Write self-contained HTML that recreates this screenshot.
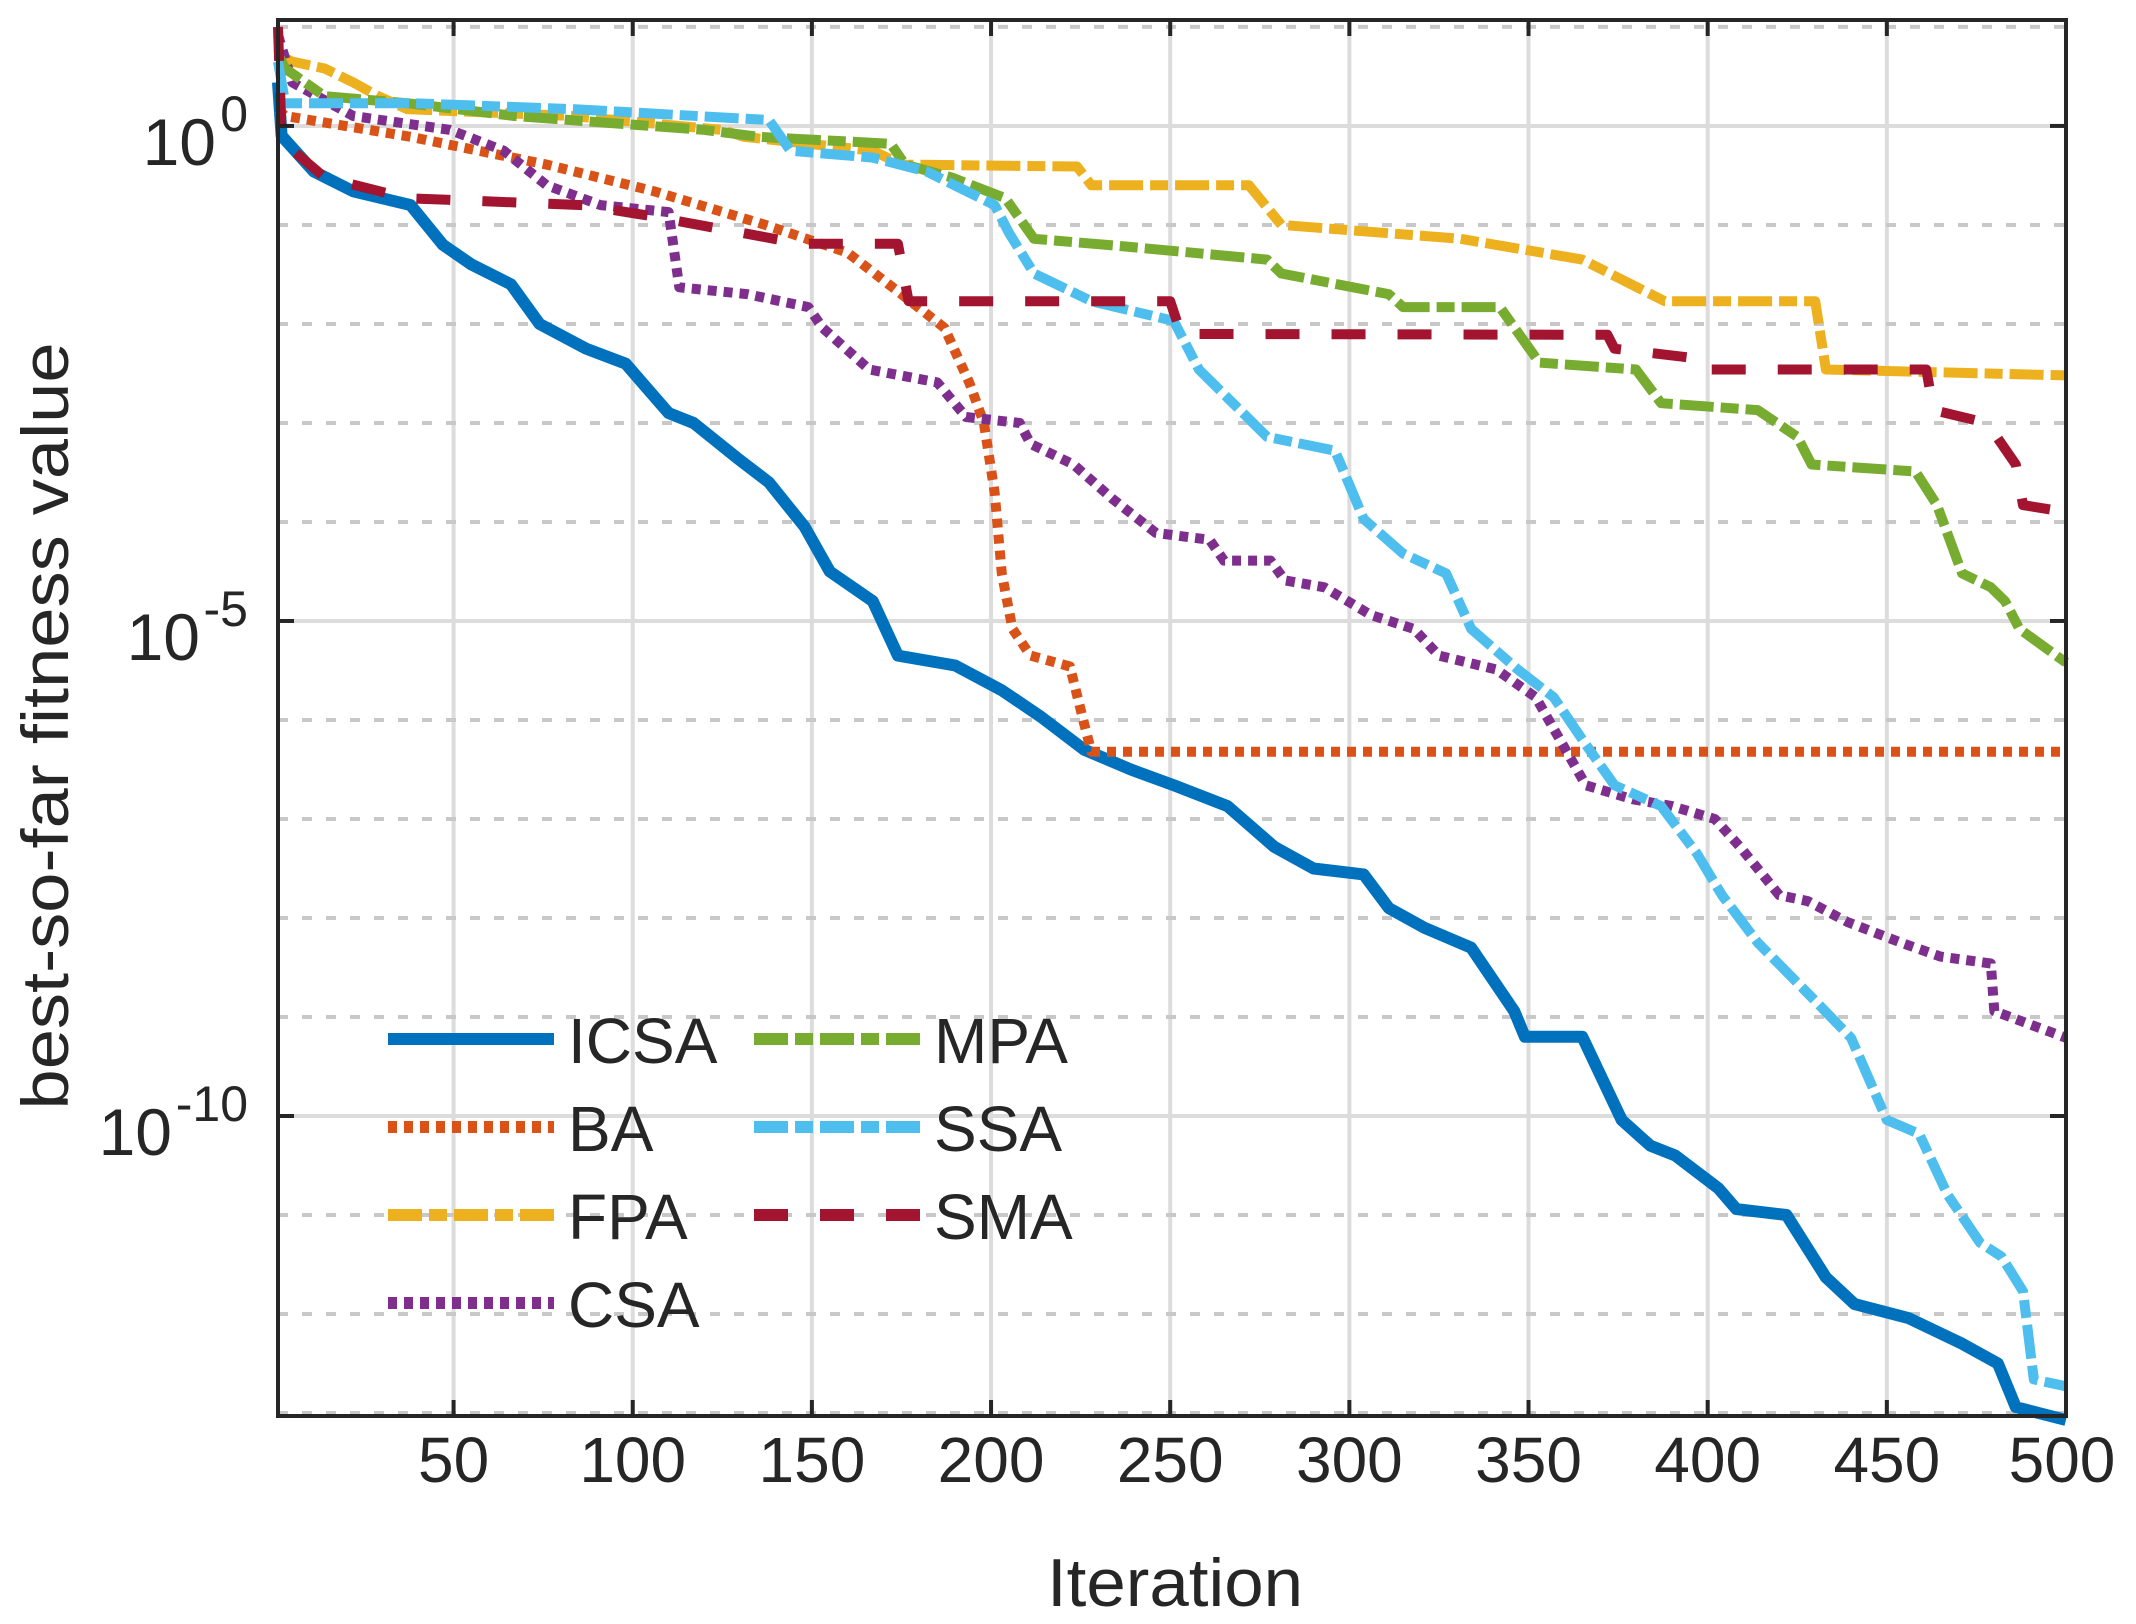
<!DOCTYPE html>
<html><head><meta charset="utf-8">
<style>
html,body{margin:0;padding:0;background:#fff;}
svg{display:block;}
text{font-family:"Liberation Sans",Arial,sans-serif;fill:#262626;}
</style></head>
<body>
<svg id="chart" width="2136" height="1624" viewBox="0 0 2136 1624" xmlns="http://www.w3.org/2000/svg">
<rect x="0" y="0" width="2136" height="1624" fill="#fff"/>
<g id="grid"></g>
<g id="series"></g>
<g id="axes"></g>
<g id="legend"></g>
</svg>
<script>
const xTicks = [50,100,150,200,250,300,350,400,450,500];
const yMajorExp = [0,-5,-10];
const yGridExp = [1,0,-1,-2,-3,-4,-5,-6,-7,-8,-9,-10,-11,-12,-13];

const icsaIter = [1,2,11,22,38,47,55,66,74,87,98,110,117,129,138,148,155,167,174,190,203,214,226,239,251,266,279,290,304,311,321,334,346,349,365,376,384,391,403,408,422,433,441,456,471,481,486,500];
const icsaLog = [0.44,-0.1,-0.46,-0.66,-0.8,-1.2,-1.4,-1.6,-2.0,-2.25,-2.4,-2.9,-3.0,-3.35,-3.6,-4.05,-4.5,-4.8,-5.35,-5.45,-5.7,-5.97,-6.3,-6.5,-6.66,-6.87,-7.28,-7.5,-7.56,-7.9,-8.1,-8.3,-8.94,-9.2,-9.2,-10.04,-10.3,-10.4,-10.73,-10.94,-11.0,-11.63,-11.9,-12.04,-12.3,-12.5,-12.94,-13.07];

const baIter = [1,3,38,76,106,137,160,175,187,194,198,201,203,206,211,222,226,228,500];
const baLog = [0.17,0.1,-0.11,-0.39,-0.66,-1.0,-1.28,-1.7,-2.04,-2.6,-3.0,-3.7,-4.52,-5.08,-5.35,-5.46,-6.04,-6.32,-6.32];

const fpaIter = [1,5,14,22,29,37,83,125,131,167,175,224,228,272,281,331,365,388,430,433,500];
const fpaLog = [0.72,0.65,0.58,0.44,0.3,0.17,0.1,-0.04,-0.11,-0.25,-0.39,-0.41,-0.6,-0.6,-1.0,-1.14,-1.35,-1.77,-1.77,-2.46,-2.52];

const csaIter = [1,5,22,49,64,76,91,110,113,132,149,153,166,185,193,208,211,223,234,246,261,265,278,282,293,306,318,325,341,352,366,379,390,402,409,420,428,439,454,465,479,480,500];
const csaLog = [0.92,0.44,0.1,-0.04,-0.25,-0.6,-0.8,-0.87,-1.63,-1.7,-1.83,-2.04,-2.46,-2.59,-2.94,-3.0,-3.21,-3.42,-3.77,-4.11,-4.18,-4.39,-4.39,-4.59,-4.66,-4.94,-5.08,-5.35,-5.49,-5.77,-6.66,-6.8,-6.87,-7.0,-7.28,-7.77,-7.83,-8.04,-8.25,-8.39,-8.46,-8.94,-9.21];

const mpaIter = [1,3,14,37,67,120,135,172,176,189,204,212,235,277,281,311,315,342,353,380,387,414,425,429,458,464,471,479,483,487,500];
const mpaLog = [0.72,0.58,0.3,0.23,0.1,-0.04,-0.11,-0.18,-0.39,-0.52,-0.73,-1.14,-1.21,-1.35,-1.49,-1.7,-1.83,-1.83,-2.39,-2.46,-2.8,-2.87,-3.14,-3.42,-3.49,-3.83,-4.52,-4.66,-4.8,-5.08,-5.42];

const ssaIter = [1,3,38,83,138,144,167,182,201,205,212,228,251,258,277,296,304,315,327,334,347,357,366,374,387,397,404,414,429,440,450,459,467,476,482,488,491,500];
const ssaLog = [0.65,0.23,0.23,0.17,0.06,-0.25,-0.32,-0.46,-0.8,-1.08,-1.49,-1.77,-1.97,-2.46,-3.14,-3.28,-3.97,-4.32,-4.52,-5.08,-5.49,-5.77,-6.25,-6.66,-6.87,-7.35,-7.77,-8.25,-8.8,-9.21,-10.04,-10.18,-10.8,-11.28,-11.42,-11.77,-12.66,-12.73];

const smaIter = [1,2,3,14,37,86,105,147,174,177,250,253,372,374,395,397,461,463,478,486,488,500];
const smaLog = [1.0,-0.11,-0.18,-0.52,-0.73,-0.8,-0.91,-1.19,-1.19,-1.77,-1.77,-2.1,-2.11,-2.25,-2.34,-2.46,-2.46,-2.87,-3.0,-3.42,-3.83,-3.9];

const seriesNames = ["ICSA","BA","FPA","CSA","MPA","SSA","SMA"];

const NS = "http://www.w3.org/2000/svg";
const L = 278, R = 2066, T = 20, B = 1416;
const xMin = 1, xMax = 500, yMaxLog = 1.07, yMinLog = -13.03;
function xs(v){ return L + (v - xMin) / (xMax - xMin) * (R - L); }
function ys(lg){ return T + (yMaxLog - lg) / (yMaxLog - yMinLog) * (B - T); }
function mk(tag, attrs, parent){
  const e = document.createElementNS(NS, tag);
  for (const k in attrs) e.setAttribute(k, attrs[k]);
  parent.appendChild(e); return e;
}
const grid = document.getElementById('grid');
const axes = document.getElementById('axes');
const sg = document.getElementById('series');
const lg = document.getElementById('legend');

xTicks.forEach(t => {
  const x = xs(t);
  const gl = mk('line', {x1:x, x2:x, y1:T, y2:B, stroke:'#dcdcdc', 'stroke-width':4}, grid);
  
  
  const tk = mk('line', {x1:x, x2:x, y1:B, y2:B-16, stroke:'#262626', 'stroke-width':4}, axes);
  
  
  const tk2 = mk('line', {x1:x, x2:x, y1:T, y2:T+16, stroke:'#262626', 'stroke-width':4}, axes);
  
  
  const lab = mk('text', {x: t===500 ? x-4 : x, y:1482, 'font-size':64, 'text-anchor':'middle'}, axes);
  lab.textContent = String(t);
  
  
});
yGridExp.forEach(e => {
  const y = ys(e);
  const major = yMajorExp.indexOf(e) >= 0;
  const gl = mk('line', {x1:L, x2:R, y1:y, y2:y, stroke: major ? '#dcdcdc' : '#c8c8c8', 'stroke-width': 4}, grid);
  if (!major) gl.setAttribute('stroke-dasharray', '10 14');
  
  
});
yMajorExp.forEach(e => {
  const y = ys(e);
  const tk = mk('line', {x1:L, x2:L+16, y1:y, y2:y, stroke:'#262626', 'stroke-width':4}, axes);
  
  
  const tk2 = mk('line', {x1:R, x2:R-16, y1:y, y2:y, stroke:'#262626', 'stroke-width':4}, axes);
  
  
  const ex = mk('text', {x:248, y:y+5, 'font-size':50, 'text-anchor':'end'}, axes);
  ex.textContent = e === 0 ? '0' : String(e);
  
  
  const bw = e === 0 ? 28 : (e === -5 ? 44 : 72);
  const base = mk('text', {x:248 - bw - 4, y:y+39, 'font-size':66, 'text-anchor':'end'}, axes);
  base.textContent = '10';
  
  
});

const styles = [
  {c:'#0072BD', w:12, d:null},
  {c:'#D95319', w:10, d:'9 7'},
  {c:'#EDB120', w:10, d:'34 7 18 7'},
  {c:'#7E2F8E', w:10, d:'9 7'},
  {c:'#77AC30', w:10, d:'34 7 18 7'},
  {c:'#4DBEEE', w:10, d:'34 7 18 7'},
  {c:'#A2142F', w:10, d:'34 32'}
];
const iters = [icsaIter, baIter, fpaIter, csaIter, mpaIter, ssaIter, smaIter];
const logs = [icsaLog, baLog, fpaLog, csaLog, mpaLog, ssaLog, smaLog];
const drawOrder = [0,1,2,3,4,5,6];
drawOrder.forEach(i => {
  const pts = iters[i].map((v, j) => xs(v).toFixed(1) + ',' + ys(logs[i][j]).toFixed(1)).join(' ');
  const p = mk('polyline', {points:pts, fill:'none', stroke:styles[i].c, 'stroke-width':styles[i].w, 'stroke-linejoin':'round'}, sg);
  if (styles[i].d) p.setAttribute('stroke-dasharray', styles[i].d);
  
  
});

// frame
const fr = mk('rect', {x:L, y:T, width:R-L, height:B-T, fill:'none', stroke:'#262626', 'stroke-width':4}, axes);



// legend
const legPos = [[388,1039],[388,1127],[388,1215],[388,1303],[754,1039],[754,1127],[754,1215]];
const legOrder = [0,1,2,3,4,5,6];
legOrder.forEach(i => {
  const [x, y] = legPos[i];
  const ln = mk('line', {x1:x, x2:x+166, y1:y, y2:y, stroke:styles[i].c, 'stroke-width':12}, lg);
  if (styles[i].d) ln.setAttribute('stroke-dasharray', styles[i].d);
  
  
  const tx = mk('text', {x:x+180, y:y+24, 'font-size':64, fill:'#000'}, lg);
  tx.textContent = seriesNames[i];
  
  
});

// axis titles
const xt = mk('text', {x:1175, y:1606, 'font-size':68, 'text-anchor':'middle', textLength:256, lengthAdjust:'spacingAndGlyphs'}, axes);
xt.textContent = 'Iteration';


const yt = mk('text', {x:0, y:0, 'font-size':66, 'text-anchor':'middle', transform:'translate(68,726) rotate(-90)', textLength:767, lengthAdjust:'spacingAndGlyphs'}, axes);
yt.textContent = 'best-so-far fitness value';


</script>
</body></html>
